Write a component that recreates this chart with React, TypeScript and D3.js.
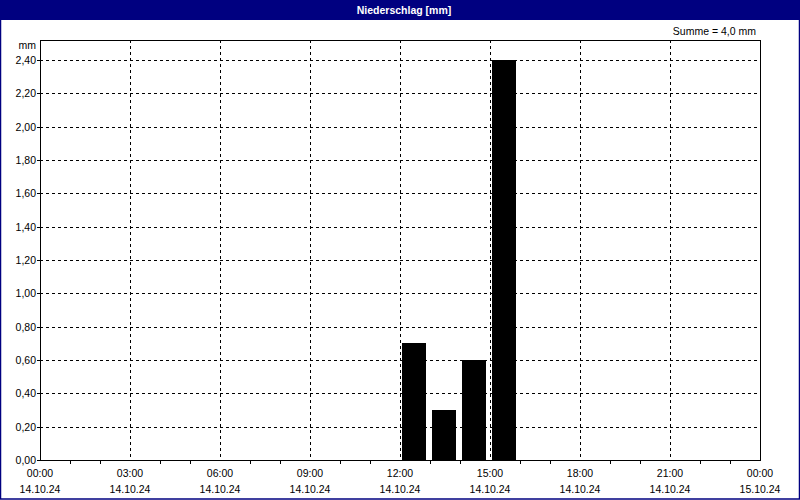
import * as d3 from 'd3';
import React, { useEffect, useRef } from 'react';

// hourly precipitation on 14.10.24 (hour of day -> mm)
const hours = [12, 13, 14, 15];
const values = [0.7, 0.3, 0.6, 2.4];
const yTicks = [0, 0.2, 0.4, 0.6, 0.8, 1.0, 1.2, 1.4, 1.6, 1.8, 2.0, 2.2, 2.4];
const xTickHours = [0, 3, 6, 9, 12, 15, 18, 21, 24];
const xTimeLabels = ['00:00', '03:00', '06:00', '09:00', '12:00', '15:00', '18:00', '21:00', '00:00'];
const xDateLabels = ['14.10.24', '14.10.24', '14.10.24', '14.10.24', '14.10.24', '14.10.24', '14.10.24', '14.10.24', '15.10.24'];
const title = 'Niederschlag [mm]';
const sumLabel = 'Summe = 4,0 mm';

const App: React.FC = () => {
  const svgRef = useRef(null);

  useEffect(() => {
    document.body.style.margin = '0';
    const W = 800;
    const H = 500;
    const left = 40, right = 760, top = 40, bottom = 460;
    const font = '"Liberation Sans", Arial, sans-serif';
    const fs = 10.5;

    const svg = d3.select(svgRef.current);
    svg.selectAll('*').remove();
    svg.attr('width', W).attr('height', H).style('display', 'block');

    const x = d3.scaleLinear().domain([0, 24]).range([left, right]);
    const y = d3.scaleLinear().domain([0, 2.4]).range([bottom, 60]);

    svg.append('rect').attr('width', W).attr('height', H).attr('fill', '#fff');

    // title bar
    svg.append('rect').attr('x', 0).attr('y', 0).attr('width', W).attr('height', 20).attr('fill', '#000080');
    svg
      .append('text')
      .attr('x', 404)
      .attr('y', 14)
      .attr('text-anchor', 'middle')
      .attr('fill', '#fff')
      .attr('font-family', font)
      .attr('font-size', fs)
      .attr('font-weight', 'bold')
      .text(title);

    // outer frame
    svg
      .append('rect')
      .attr('x', 0.5)
      .attr('y', 0.5)
      .attr('width', W - 1)
      .attr('height', H - 1.5)
      .attr('fill', 'none')
      .attr('stroke', '#000080')
      .attr('stroke-width', 1.5);

    svg
      .append('text')
      .attr('x', 756)
      .attr('y', 35)
      .attr('text-anchor', 'end')
      .attr('font-family', font)
      .attr('font-size', fs)
      .text(sumLabel);

    const grid = svg.append('g').attr('shape-rendering', 'crispEdges');

    // horizontal grid
    grid
      .selectAll('.hg')
      .data(yTicks.filter((d) => d > 0))
      .enter()
      .append('line')
      .attr('x1', left)
      .attr('x2', right)
      .attr('y1', (d) => Math.round(y(d)) + 0.5)
      .attr('y2', (d) => Math.round(y(d)) + 0.5)
      .attr('stroke', '#000')
      .attr('stroke-dasharray', '3,3');

    // vertical grid
    grid
      .selectAll('.vg')
      .data(xTickHours.filter((d) => d > 0 && d < 24))
      .enter()
      .append('line')
      .attr('x1', (d) => Math.round(x(d)) + 0.5)
      .attr('x2', (d) => Math.round(x(d)) + 0.5)
      .attr('y1', top)
      .attr('y2', bottom)
      .attr('stroke', '#000')
      .attr('stroke-dasharray', '3,3');

    // bars
    const hourW = x(1) - x(0);
    svg
      .append('g')
      .attr('shape-rendering', 'crispEdges')
      .selectAll('rect')
      .data(hours.map((h, i) => ({ h, v: values[i] })))
      .enter()
      .append('rect')
      .attr('x', (d) => x(d.h) + 2)
      .attr('width', hourW - 6)
      .attr('y', (d) => y(d.v))
      .attr('height', (d) => bottom - y(d.v))
      .attr('fill', '#000');

    // plot frame
    svg
      .append('rect')
      .attr('x', left + 0.5)
      .attr('y', top + 0.5)
      .attr('width', right - left)
      .attr('height', bottom - top)
      .attr('fill', 'none')
      .attr('stroke', '#000')
      .attr('shape-rendering', 'crispEdges');

    // y ticks + labels
    const fmt = (v: number) => v.toFixed(2).replace('.', ',');
    const yAxis = svg.append('g');
    yAxis
      .selectAll('line')
      .data(yTicks)
      .enter()
      .append('line')
      .attr('x1', left - 3)
      .attr('x2', left)
      .attr('y1', (d) => Math.round(y(d)) + 0.5)
      .attr('y2', (d) => Math.round(y(d)) + 0.5)
      .attr('stroke', '#000')
      .attr('shape-rendering', 'crispEdges');
    yAxis
      .selectAll('text')
      .data(yTicks)
      .enter()
      .append('text')
      .attr('x', 36)
      .attr('y', (d) => y(d) + 4)
      .attr('text-anchor', 'end')
      .attr('font-family', font)
      .attr('font-size', fs)
      .text(fmt);
    svg
      .append('text')
      .attr('x', 36)
      .attr('y', 49)
      .attr('text-anchor', 'end')
      .attr('font-family', font)
      .attr('font-size', fs)
      .text('mm');

    // x minor ticks (hourly)
    const xAxis = svg.append('g');
    xAxis
      .selectAll('line')
      .data(d3.range(1, 24).filter((h) => h % 3 !== 0))
      .enter()
      .append('line')
      .attr('x1', (d) => Math.round(x(d)) + 0.5)
      .attr('x2', (d) => Math.round(x(d)) + 0.5)
      .attr('y1', bottom)
      .attr('y2', bottom + 4)
      .attr('stroke', '#000')
      .attr('shape-rendering', 'crispEdges');
    xAxis
      .selectAll('.t')
      .data(xTickHours)
      .enter()
      .append('text')
      .attr('x', (d) => x(d))
      .attr('y', 477)
      .attr('text-anchor', 'middle')
      .attr('font-family', font)
      .attr('font-size', fs)
      .text((d, i) => xTimeLabels[i]);
    xAxis
      .selectAll('.dl')
      .data(xTickHours)
      .enter()
      .append('text')
      .attr('x', (d) => x(d))
      .attr('y', 493)
      .attr('text-anchor', 'middle')
      .attr('font-family', font)
      .attr('font-size', fs)
      .text((d, i) => xDateLabels[i]);
  }, []);

  return <svg ref={svgRef} />;
};

export default App;
